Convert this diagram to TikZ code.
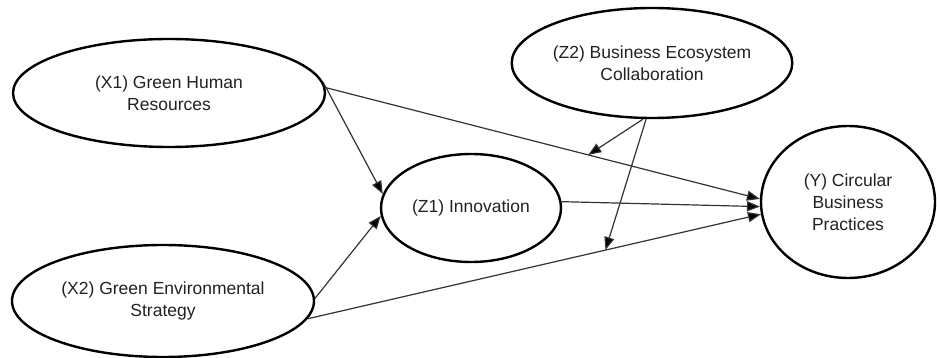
\documentclass[tikz,border=0pt]{standalone}
\usepackage{fontspec}
\setmainfont{Liberation Sans}
\usetikzlibrary{shapes.geometric,arrows.meta}
\definecolor{inkline}{HTML}{333333}
\definecolor{inktext}{HTML}{222222}
\begin{document}
\begin{tikzpicture}[x=1pt,y=-1pt,
  construct/.style={ellipse,draw=black,line width=2.4pt,inner sep=0pt,
    align=center,text=inktext,font=\fontsize{17.5}{22}\selectfont},
  path arrow/.style={draw=inkline,line width=1.2pt,
    -{Triangle[length=13pt,width=10pt,fill=black]}}]
\useasboundingbox[fill=white] (0,0) rectangle (937,358);

% latent constructs
\node[construct,minimum width=312pt,minimum height=108pt] (X1) at (169,93)
  {(X1) Green Human\\Resources};
\node[construct,minimum width=302pt,minimum height=112pt] (X2) at (163,301)
  {(X2) Green Environmental\\Strategy};
\node[construct,minimum width=180pt,minimum height=108pt] (Z1) at (471,208)
  {(Z1) Innovation};
\node[construct,minimum width=214pt,minimum height=110pt] (Z2) at (652,63)
  {(Z2) Business Ecosystem\\Collaboration};
\node[construct,minimum width=174pt,minimum height=152pt] (Y) at (848,202)
  {(Y) Circular\\Business\\Practices};

% structural paths
\draw[path arrow] (X1.4) -- (Z1.171);
\draw[path arrow] (X2.1) -- (Z1.185);
\draw[path arrow] (X1.2) -- coordinate[pos=0.605] (m1) (Y.178);
\draw[path arrow] (Z1.4) -- (Y.183);
\draw[path arrow] (X2.-7) -- coordinate[pos=0.657] (m2) (Y.188);

% moderating paths
\draw[path arrow] (Z2.261) -- (m1);
\draw[path arrow] (Z2.264) -- (m2);
\end{tikzpicture}
\end{document}
